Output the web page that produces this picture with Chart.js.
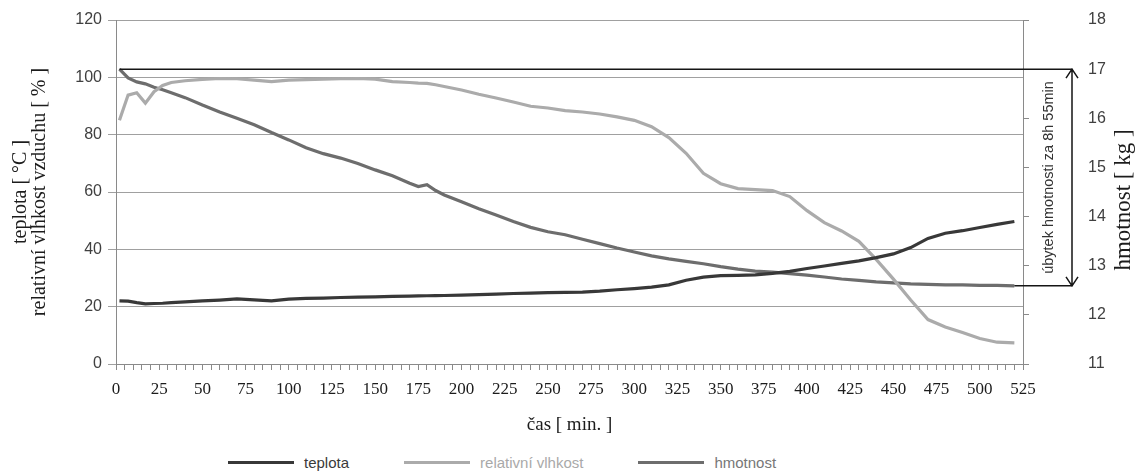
<!DOCTYPE html>
<html lang="cs">
<head>
<meta charset="utf-8">
<title>teplota, relativní vlhkost, hmotnost</title>
<script src="https://cdn.jsdelivr.net/npm/chart.js@4.4.1/dist/chart.umd.min.js"></script>
<style>
  html, body { margin: 0; padding: 0; background: #fff; overflow: hidden; }
  #wrap { position: relative; width: 1139px; height: 440px; }
  #legend {
    position: absolute; left: 228px; top: 450px; height: 24px;
    display: flex; align-items: center;
    font: 15px "Liberation Sans", Arial, sans-serif;
  }
  #legend .item { display: flex; align-items: center; margin-right: 55px; }
  #legend .swatch { width: 66px; height: 3px; margin-right: 10px; }
</style>
</head>
<body>
<div id="wrap"><canvas id="chart"></canvas></div>
<div id="legend"></div>
<script>
"use strict";

// čas [min]
const TIMES = [
  2, 7, 12, 17, 22, 27, 32, 40, 50, 60, 70, 80, 90, 100, 110, 120, 130, 140,
  150, 160, 170, 175, 180, 185, 190, 200, 210, 220, 230, 240, 250, 260, 270,
  280, 290, 300, 310, 320, 330, 340, 350, 360, 370, 380, 390, 400, 410, 420,
  430, 440, 450, 460, 470, 480, 490, 500, 510, 520,
];

// teplota [°C]
const TEPLOTA = [
  22.0, 21.9, 21.4, 21.0, 21.1, 21.2, 21.4, 21.7, 22.0, 22.3, 22.7, 22.4, 22.0,
  22.6, 22.9, 23.0, 23.2, 23.3, 23.4, 23.6, 23.7, 23.75, 23.8, 23.85, 23.9,
  24.0, 24.2, 24.4, 24.6, 24.7, 24.9, 25.0, 25.1, 25.4, 25.9, 26.3, 26.8, 27.6,
  29.2, 30.3, 30.8, 30.9, 31.1, 31.6, 32.3, 33.3, 34.2, 35.1, 36.0, 37.1, 38.4,
  40.6, 43.8, 45.6, 46.5, 47.6, 48.7, 49.7,
];

// relativní vlhkost vzduchu [%]
const VLHKOST = [
  85.0, 93.8, 94.6, 91.0, 95.0, 97.2, 98.2, 98.8, 99.3, 99.6, 99.5, 99.0, 98.5,
  99.0, 99.2, 99.4, 99.5, 99.6, 99.4, 98.5, 98.2, 98.0, 97.9, 97.4, 96.8, 95.6,
  94.1, 92.8, 91.4, 89.9, 89.3, 88.4, 87.9, 87.2, 86.2, 85.0, 82.8, 79.0, 73.5,
  66.5, 62.9, 61.2, 60.8, 60.5, 58.4, 53.5, 49.3, 46.4, 42.8, 36.5, 29.6, 22.3,
  15.5, 12.9, 11.0, 8.9, 7.6, 7.4,
];

// hmotnost [kg]
const HMOTNOST = [
  17.00, 16.82, 16.74, 16.70, 16.63, 16.58, 16.52, 16.42, 16.27, 16.13, 16.00,
  15.87, 15.71, 15.56, 15.40, 15.28, 15.19, 15.08, 14.95, 14.83, 14.68, 14.61,
  14.65, 14.53, 14.44, 14.30, 14.16, 14.03, 13.90, 13.78, 13.69, 13.63, 13.54,
  13.45, 13.36, 13.28, 13.20, 13.14, 13.09, 13.04, 12.98, 12.93, 12.89, 12.87,
  12.84, 12.81, 12.77, 12.73, 12.70, 12.67, 12.65, 12.63, 12.62, 12.61, 12.61,
  12.60, 12.60, 12.59,
];

const X_TICK_LABELS = [
  0, 25, 50, 75, 100, 125, 150, 175, 200, 225, 250, 275, 300, 325, 350, 375,
  400, 425, 450, 475, 500, 525,
];
const X_MINOR_STEP = 5;
const ANNOTATION = "úbytek hmotnosti za 8h 55min";

const SERIF = '"Liberation Serif", "Times New Roman", serif';
const SANS = '"Liberation Sans", Arial, sans-serif';
const GRID = "#a0a0a0";
const AXIS = "#8a8a8a";
const INK = "#1c1c1c";

const SERIES = [
  { label: "teplota", values: TEPLOTA, color: "#383838", text: "#3a3a3a", axis: "y" },
  { label: "relativní vlhkost", values: VLHKOST, color: "#ababab", text: "#a9a9a9", axis: "y" },
  { label: "hmotnost", values: HMOTNOST, color: "#6d6d6d", text: "#777777", axis: "y1" },
];

// double arrow with the total loss of weight, right of the plot
const weightLoss = {
  id: "weightLoss",
  afterDatasetsDraw(chart) {
    const { ctx, chartArea, scales } = chart;
    const kg = scales.y1, x = scales.x;
    const yTop = kg.getPixelForValue(HMOTNOST[0]);
    const yBot = kg.getPixelForValue(HMOTNOST[HMOTNOST.length - 1]);
    const xStart = x.getPixelForValue(TIMES[0]);
    const xEnd = x.getPixelForValue(TIMES[TIMES.length - 1]);
    const xArrow = chartArea.right + 49;
    ctx.save();
    ctx.strokeStyle = "#151515";
    ctx.lineWidth = 1.5;
    ctx.beginPath();
    ctx.moveTo(xStart, yTop); ctx.lineTo(xArrow, yTop);
    ctx.moveTo(xEnd, yBot); ctx.lineTo(xArrow, yBot);
    ctx.moveTo(xArrow, yTop); ctx.lineTo(xArrow, yBot);
    ctx.moveTo(xArrow - 6, yTop + 9); ctx.lineTo(xArrow, yTop); ctx.lineTo(xArrow + 6, yTop + 9);
    ctx.moveTo(xArrow - 6, yBot - 9); ctx.lineTo(xArrow, yBot); ctx.lineTo(xArrow + 6, yBot - 9);
    ctx.stroke();
    ctx.translate(chartArea.right + 26, (yTop + yBot) / 2);
    ctx.rotate(-Math.PI / 2);
    ctx.font = "14.5px " + SANS;
    ctx.fillStyle = "#333";
    ctx.textAlign = "center";
    ctx.textBaseline = "middle";
    ctx.fillText(ANNOTATION, 0, 0);
    ctx.restore();
  },
  // right axis title reads bottom to top, like the left one
  afterDraw(chart) {
    const { ctx, chartArea, scales } = chart;
    ctx.save();
    ctx.translate(scales.y1.right - 15, (chartArea.top + chartArea.bottom) / 2 + 8);
    ctx.rotate(-Math.PI / 2);
    ctx.font = "23px " + SERIF;
    ctx.fillStyle = INK;
    ctx.textAlign = "center";
    ctx.textBaseline = "middle";
    ctx.fillText("hmotnost [ kg ]", 0, 0);
    ctx.restore();
  },
};

function buildDatasets() {
  return SERIES.map(s => ({
    label: s.label,
    data: TIMES.map((t, i) => ({ x: t, y: s.values[i] })),
    yAxisID: s.axis,
    borderColor: s.color,
    backgroundColor: s.color,
    borderWidth: 3.2,
    pointRadius: 0,
    tension: 0,
  }));
}

function renderLegend() {
  document.getElementById("legend").innerHTML = SERIES.map(s => `
    <div class="item">
      <span class="swatch" style="background:${s.color}"></span>
      <span style="color:${s.text}">${s.label}</span>
    </div>`).join("");
}

function renderChart() {
  new Chart(document.getElementById("chart"), {
    type: "line",
    data: { datasets: buildDatasets() },
    plugins: [weightLoss],
    options: {
      responsive: true,
      maintainAspectRatio: false,
      animation: false,
      parsing: false,
      layout: { padding: { top: 20, left: 0, right: 0, bottom: 0 } },
      plugins: { legend: { display: false }, tooltip: { enabled: false } },
      scales: {
        x: {
          type: "linear", min: 0, max: 525,
          afterBuildTicks: (axis) => {
            const ticks = [];
            for (let v = 0; v <= 525; v += X_MINOR_STEP) ticks.push({ value: v });
            axis.ticks = ticks;
          },
          afterFit: (axis) => { axis.height = 76; },
          ticks: {
            autoSkip: false, maxRotation: 0, padding: 9, color: INK,
            font: { family: SERIF, size: 17 },
            callback: (v) => X_TICK_LABELS.includes(v) ? String(v) : "",
          },
          grid: { drawOnChartArea: false, tickLength: 6, color: AXIS },
          border: { color: AXIS },
          title: {
            display: true, text: "čas [ min. ]", color: INK,
            font: { family: SERIF, size: 19 }, padding: { top: 0, bottom: 4 },
          },
        },
        y: {
          position: "left", min: 0, max: 120,
          afterFit: (axis) => { axis.width = 116; },
          ticks: { stepSize: 20, padding: 6, color: "#404040", font: { family: SANS, size: 16 } },
          grid: { color: GRID, tickLength: 8 },
          border: { color: AXIS },
          title: {
            display: true,
            text: ["teplota [ °C ]", "relativní vlhkost vzduchu [ % ]"],
            color: INK,
            font: { family: SERIF, size: 20, lineHeight: 0.95 },
            padding: { top: 11, bottom: 0 },
          },
        },
        y1: {
          position: "right", min: 11, max: 18,
          afterFit: (axis) => {
            axis.width = 116;
            // the wide label gap must not push the plot down
            axis.paddingTop = 10;
            axis.paddingBottom = 10;
          },
          ticks: { stepSize: 1, padding: 59, color: "#404040", font: { family: SANS, size: 16 } },
          grid: { drawOnChartArea: false, tickLength: 6, color: AXIS },
          border: { color: AXIS },
        },
      },
    },
  });
}

renderLegend();
renderChart();
</script>
</body>
</html>
